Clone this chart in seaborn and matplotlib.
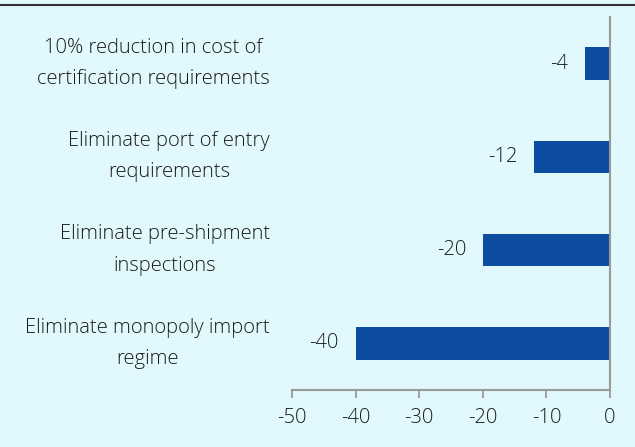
import matplotlib
matplotlib.use("Agg")
import matplotlib.pyplot as plt
from matplotlib.lines import Line2D
import seaborn as sns
import pandas as pd

categories = [
    "10% reduction in cost of\ncertification requirements",
    "Eliminate port of entry\nrequirements",
    "Eliminate pre-shipment\ninspections",
    "Eliminate monopoly import\nregime",
]
values = [-4, -12, -20, -40]
xticks = [-50, -40, -30, -20, -10, 0]

bg = "#E1F9FC"
bar_color = "#0C4DA2"
text_color = "#1A1A1A"
axis_color = "#999999"

sns.set_theme(style="white")
plt.rcParams["font.family"] = ["Open Sans", "DejaVu Sans"]
plt.rcParams["font.weight"] = "light"

df = pd.DataFrame({"category": categories, "value": values})

fig = plt.figure(figsize=(6.35, 4.47), dpi=100, facecolor=bg)
ax = fig.add_axes([292 / 635, 1 - 390 / 447, (610 - 292) / 635, (390 - 17) / 447])
ax.set_facecolor(bg)

sns.barplot(data=df, x="value", y="category", orient="h", color=bar_color,
            saturation=1, width=0.35, linewidth=0, ax=ax)

ax.set_xlim(-50, 0)
ax.set_ylim(3.5, -0.5)
ax.set_xticks(xticks)
ax.set_xticklabels([str(v) for v in xticks])
ax.set_xlabel("")
ax.set_ylabel("")

ax.tick_params(axis="x", length=6, width=1.3, color=axis_color, direction="out",
               pad=7, labelsize=14.5, labelcolor=text_color, bottom=True)
ax.tick_params(axis="y", length=0, pad=16, labelsize=14.5, labelcolor=text_color, left=False)

for lab in ax.get_yticklabels():
    lab.set_multialignment("center")
    lab.set_linespacing(1.75)
    lab.set_verticalalignment("center")

for side in ["left", "top"]:
    ax.spines[side].set_visible(False)
for side in ["bottom", "right"]:
    ax.spines[side].set_visible(True)
    ax.spines[side].set_color(axis_color)
    ax.spines[side].set_linewidth(1.5)

ax.bar_label(ax.containers[0], labels=[str(v) for v in values], padding=12,
             fontsize=14.5, color=text_color)

# thin rule across the top of the figure
fig.add_artist(Line2D([0, 1], [1 - 5 / 447, 1 - 5 / 447], transform=fig.transFigure,
                      color="#333333", linewidth=1.5))

fig.savefig("out.png", dpi=100, facecolor=bg)
